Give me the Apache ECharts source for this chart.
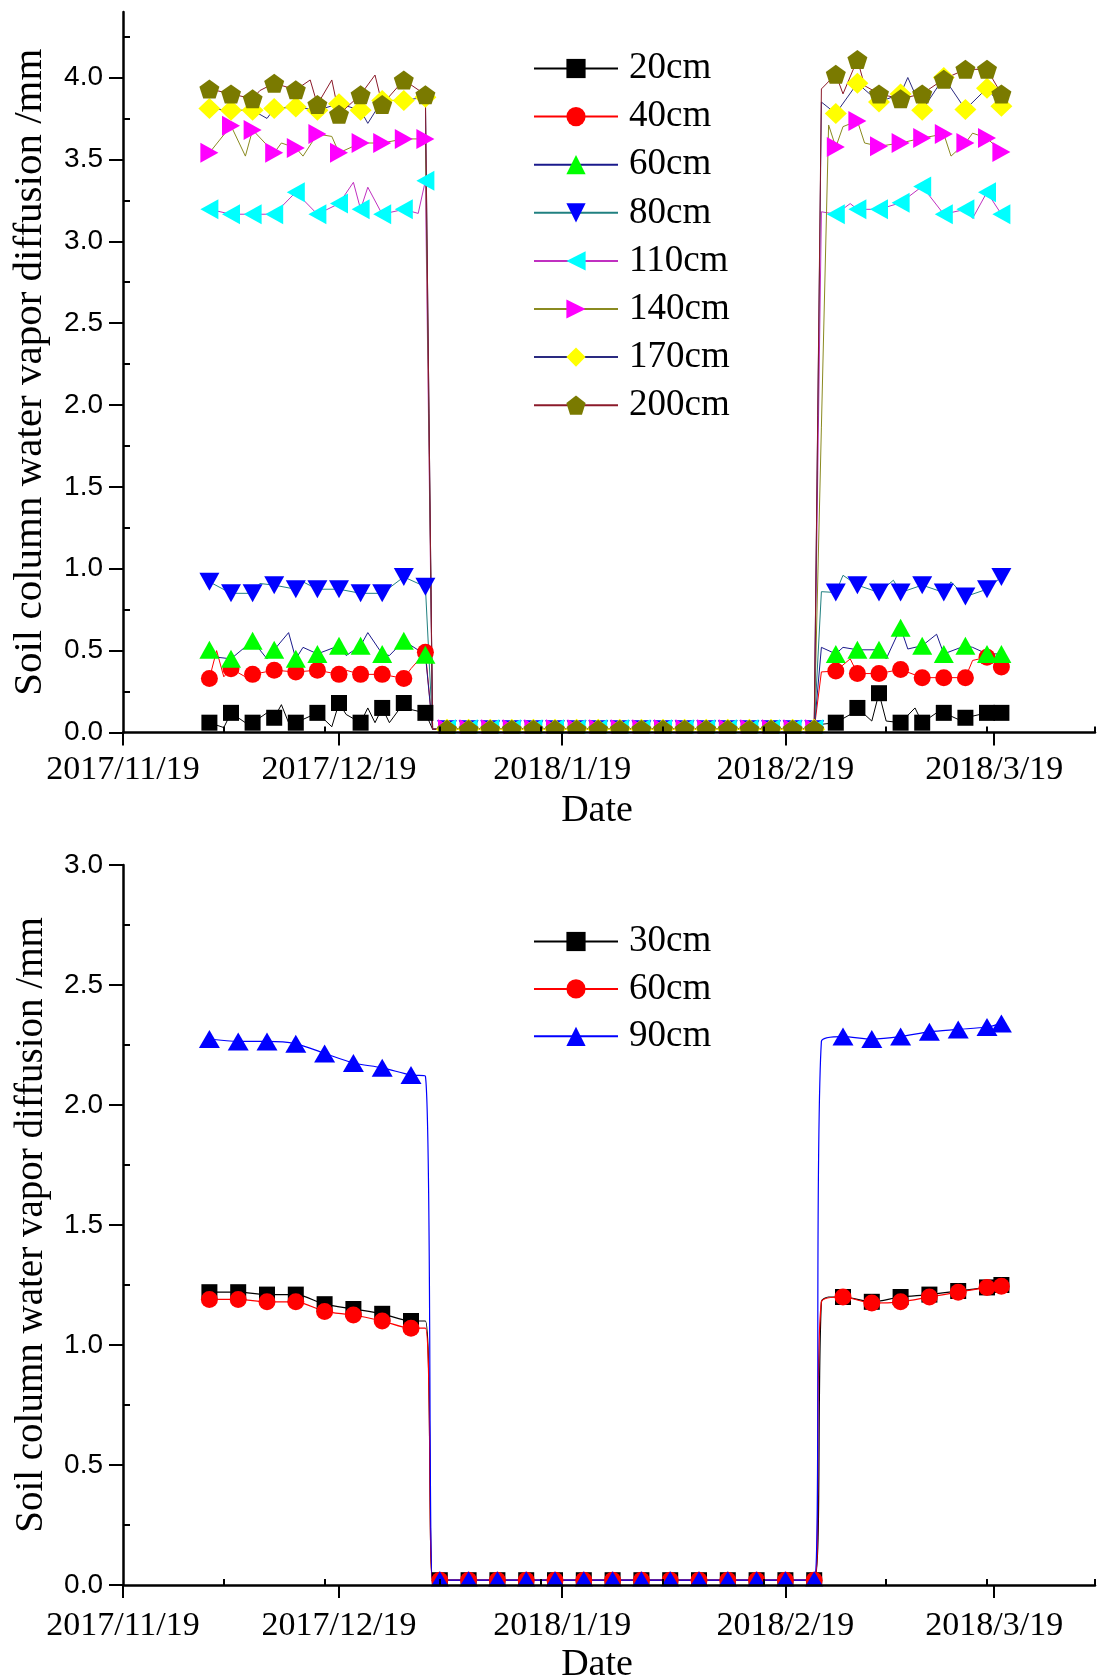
<!DOCTYPE html>
<html><head><meta charset="utf-8">
<script src="https://cdn.jsdelivr.net/npm/echarts@6/dist/echarts.min.js"></script>
<style>html,body{margin:0;padding:0;background:#fff}#c{width:1107px;height:1678px}</style>
</head><body><div id="c"></div>
<script>
// ===== axis ticks (x in days since 2017/11/19) =====
const tickDays = [0, 30, 61, 92, 121];
const tickLabels = ['2017/11/19', '2017/12/19', '2018/1/19', '2018/2/19', '2018/3/19'];
const minorTickDays = [14, 28, 44, 58, 75, 89, 106, 120, 135];
const xMaxDay = 135;
const topYTicks = [0, 0.5, 1, 1.5, 2, 2.5, 3, 3.5, 4];
const topYMinor = [0.25, 0.75, 1.25, 1.75, 2.25, 2.75, 3.25, 3.75, 4.25];
const botYTicks = [0, 0.5, 1, 1.5, 2, 2.5, 3];
const botYMinor = [0.25, 0.75, 1.25, 1.75, 2.25, 2.75];

// ===== top chart =====
const topNames = ['20cm', '40cm', '60cm', '80cm', '110cm', '140cm', '170cm', '200cm'];
const topDays1 = [12, 15, 18, 21, 24, 27, 30, 33, 36, 39, 42];
const topZeroDays = [45, 48, 51, 54, 57, 60, 63, 66, 69, 72, 75, 78, 81, 84, 87, 90, 93, 96];
const topZeroValues = [0.02, 0.02, 0.02, 0.02, 0.02, 0.02, 0.02, 0.02, 0.02, 0.02, 0.02, 0.02, 0.02, 0.02, 0.02, 0.02, 0.02, 0.02];
const topDays2 = [99, 102, 105, 108, 111, 114, 117, 120, 122];

const s20a = [0.06, 0.12, 0.06, 0.09, 0.06, 0.12, 0.18, 0.06, 0.15, 0.18, 0.12];
const s20b = [0.06, 0.15, 0.24, 0.06, 0.06, 0.12, 0.09, 0.12, 0.12];
const s40a = [0.33, 0.39, 0.355, 0.38, 0.37, 0.38, 0.355, 0.355, 0.355, 0.33, 0.49];
const s40b = [0.375, 0.36, 0.36, 0.385, 0.335, 0.335, 0.335, 0.46, 0.40];
const s60a = [0.505, 0.45, 0.56, 0.505, 0.45, 0.48, 0.53, 0.53, 0.48, 0.56, 0.475];
const s60b = [0.48, 0.505, 0.505, 0.64, 0.53, 0.48, 0.53, 0.48, 0.48];
const s80a = [0.92, 0.85, 0.85, 0.90, 0.875, 0.875, 0.875, 0.85, 0.85, 0.95, 0.89];
const s80b = [0.855, 0.90, 0.855, 0.855, 0.90, 0.855, 0.83, 0.875, 0.95];
const s110a = [3.195, 3.165, 3.165, 3.165, 3.30, 3.165, 3.23, 3.195, 3.165, 3.195, 3.37];
const s110b = [3.165, 3.195, 3.195, 3.235, 3.335, 3.165, 3.195, 3.30, 3.165];
const s140a = [3.54, 3.705, 3.68, 3.54, 3.57, 3.655, 3.54, 3.60, 3.60, 3.625, 3.625];
const s140b = [3.575, 3.735, 3.58, 3.60, 3.63, 3.655, 3.60, 3.63, 3.545];
const s170a = [3.81, 3.80, 3.80, 3.81, 3.82, 3.80, 3.84, 3.80, 3.86, 3.86, 3.88];
const s170b = [3.78, 3.965, 3.85, 3.90, 3.80, 4.00, 3.805, 3.935, 3.825];
const s200a = [3.93, 3.90, 3.87, 3.965, 3.925, 3.835, 3.775, 3.895, 3.835, 3.985, 3.895];
const s200b = [4.02, 4.11, 3.90, 3.87, 3.90, 3.99, 4.05, 4.05, 3.90];

// line-only vertices between markers [day, value]
const x20 = [[14, 0.03], [17, 0.06], [20, 0.12], [22, 0.17], [23, 0.06], [29, 0.035], [31, 0.11], [34, 0.15], [35, 0.06], [37, 0.06], [40, 0.14], [43, 0.02], [97, 0.05], [101, 0.11], [104, 0.07], [106, 0.07], [110, 0.15], [113, 0.12], [116, 0.08]];
const x40 = [[13, 0.50], [14, 0.34], [17, 0.34], [31, 0.38], [40, 0.39], [43, 0.02], [97, 0.37], [101, 0.45], [118, 0.44]];
const x60 = [[13, 0.46], [20, 0.45], [23, 0.61], [25, 0.52], [31, 0.47], [34, 0.61], [37, 0.47], [43, 0.02], [97, 0.52], [100, 0.52], [106, 0.45], [109, 0.51], [113, 0.60], [118, 0.52]];
const x80 = [[19, 0.91], [25, 0.92], [43, 0.02], [97, 0.86], [100, 0.96], [107, 0.93], [115, 0.92]];
const x110 = [[32, 3.36], [34, 3.33], [41, 3.17], [43, 0.02], [97, 3.18], [101, 3.23], [118, 3.14]];
const x140 = [[17, 3.52], [22, 3.60], [25, 3.52], [29, 3.64], [43, 0.02], [98, 3.71], [100, 3.70], [103, 3.60], [115, 3.52], [118, 3.66]];
const x170 = [[20, 3.75], [34, 3.72], [43, 0.02], [97, 3.85], [109, 4.00]];
const x200 = [[19, 3.92], [26, 3.985], [29, 3.985], [35, 4.015], [43, 0.02], [97, 3.93], [100, 3.90], [103, 3.95]];

// ===== bottom chart =====
const botNames = ['30cm', '60cm', '90cm'];
const botDays1 = [12, 16, 20, 24, 28, 32, 36, 40];
const botZeroDays = [44, 48, 52, 56, 60, 64, 68, 72, 76, 80, 84, 88, 92, 96];
const botZeroValues = [0.02, 0.02, 0.02, 0.02, 0.02, 0.02, 0.02, 0.02, 0.02, 0.02, 0.02, 0.02, 0.02, 0.02];
const botDays2 = [100, 104, 108, 112, 116, 120, 122];
const b30a = [1.22, 1.22, 1.21, 1.21, 1.17, 1.15, 1.13, 1.10];
const b30b = [1.20, 1.18, 1.20, 1.21, 1.225, 1.24, 1.25];
const b60a = [1.19, 1.19, 1.18, 1.18, 1.14, 1.125, 1.10, 1.07];
const b60b = [1.20, 1.175, 1.18, 1.20, 1.22, 1.24, 1.245];
const b90a = [2.275, 2.265, 2.265, 2.255, 2.215, 2.175, 2.155, 2.125];
const b90b = [2.285, 2.275, 2.285, 2.305, 2.315, 2.325, 2.34];
const y30 = [[42, 1.10], [43, 0.02], [97, 1.18], [98, 1.20]];
const y60 = [[42, 1.07], [43, 0.02], [97, 1.18]];
const y90 = [[42, 2.12], [43, 0.02], [97, 2.265]];

// ===== build =====
const SERIF = '"Liberation Serif","Times New Roman",serif';
const SANS = '"Liberation Sans",Arial,sans-serif';
const PENTA = 'path://M50,0L97.6,34.5L79.4,90.5L20.6,90.5L2.4,34.5Z';

function pts(d1, v1, dz, vz, d2, v2, extra) {
  const out = [];
  d1.forEach((d, i) => out.push({ value: [d, v1[i]] }));
  dz.forEach((d, i) => out.push({ value: [d, vz[i]] }));
  d2.forEach((d, i) => out.push({ value: [d, v2[i]] }));
  extra.forEach(p => out.push({ value: [p[0], p[1]], symbol: 'none' }));
  out.sort((a, b) => a.value[0] - b.value[0]);
  return out;
}
function mkSeries(name, data, xi, yi, sym, size, rot, fill, line, lw, smooth) {
  return {
    type: 'line', name: name, xAxisIndex: xi, yAxisIndex: yi, data: data,
    symbol: sym, symbolSize: size, symbolRotate: rot, showSymbol: true,
    itemStyle: { color: fill, borderWidth: 0 },
    lineStyle: { color: line, width: lw },
    smooth: smooth || false, animation: false, clip: true
  };
}
const topStyle = [
  ['rect', 16, 0, '#000000', '#000000'],
  ['circle', 17, 0, '#ff0000', '#ff0000'],
  ['triangle', [20, 18], 0, '#00ff00', '#1a1a8c'],
  ['triangle', [20, 18], 180, '#0000ff', '#208080'],
  ['triangle', [20, 18], 90, '#00ffff', '#c030c0'],
  ['triangle', [20, 18], -90, '#ff00ff', '#8a8a20'],
  ['diamond', [22, 21], 0, '#ffff00', '#2a2a80'],
  [PENTA, [20, 19], 0, '#7a7a00', '#8b1a2a']
];
const topA = [s20a, s40a, s60a, s80a, s110a, s140a, s170a, s200a];
const topB = [s20b, s40b, s60b, s80b, s110b, s140b, s170b, s200b];
const topX = [x20, x40, x60, x80, x110, x140, x170, x200];
const series = [];
topNames.forEach((n, i) => {
  const st = topStyle[i];
  series.push(mkSeries(n, pts(topDays1, topA[i], topZeroDays, topZeroValues, topDays2, topB[i], topX[i]), 0, 0, st[0], st[1], st[2], st[3], st[4], 1));
});
const botStyle = [
  ['rect', 16, 0, '#000000', '#000000'],
  ['circle', 17, 0, '#ff0000', '#ff0000'],
  ['triangle', [21, 18], 0, '#0000ff', '#0000ff']
];
const botA = [b30a, b60a, b90a], botB = [b30b, b60b, b90b], botX = [y30, y60, y90];
botNames.forEach((n, i) => {
  const st = botStyle[i];
  series.push(mkSeries('b' + n, pts(botDays1, botA[i], botZeroDays, botZeroValues, botDays2, botB[i], botX[i]), 2, 2, st[0], st[1], st[2], st[3], st[4], 1.2, 0.3));
});

function xAxes(gi, labelMargin, nameGap) {
  return [{
    type: 'value', gridIndex: gi, min: 0, max: xMaxDay, z: 200,
    axisLine: { show: true, onZero: false, lineStyle: { color: '#000', width: 2.5 } },
    axisTick: { show: true, inside: false, length: 13, customValues: tickDays, lineStyle: { color: '#000', width: 2 } },
    axisLabel: { show: true, customValues: tickDays, margin: labelMargin, color: '#000', fontSize: 34, fontFamily: SERIF,
      formatter: v => tickLabels[tickDays.indexOf(v)] },
    splitLine: { show: false },
    name: 'Date', nameLocation: 'middle', nameGap: nameGap,
    nameTextStyle: { color: '#000', fontSize: 38, fontFamily: SERIF, padding: [0, 24, 0, 0] }
  }, {
    type: 'value', gridIndex: gi, min: 0, max: xMaxDay, z: 200,
    axisLine: { show: false },
    axisTick: { show: true, inside: false, length: 6, customValues: minorTickDays, lineStyle: { color: '#000', width: 2 } },
    axisLabel: { show: false }, splitLine: { show: false }
  }];
}
function yAxes(gi, max, ticks, minor, nameSize) {
  return [{
    type: 'value', gridIndex: gi, min: 0, max: max, z: 200,
    axisLine: { show: true, onZero: false, lineStyle: { color: '#000', width: 2.5 } },
    axisTick: { show: true, inside: false, length: 14, customValues: ticks, lineStyle: { color: '#000', width: 2 } },
    axisLabel: { show: true, customValues: ticks, margin: 20, color: '#000', fontSize: 28, fontFamily: SANS,
      formatter: v => v.toFixed(1) },
    splitLine: { show: false },
    name: 'Soil column water vapor diffusion /mm', nameLocation: 'middle', nameGap: 72,
    nameTextStyle: { color: '#000', fontSize: nameSize, fontFamily: SERIF }
  }, {
    type: 'value', gridIndex: gi, min: 0, max: max, z: 200,
    axisLine: { show: false },
    axisTick: { show: true, inside: false, length: 7, customValues: minor, lineStyle: { color: '#000', width: 2 } },
    axisLabel: { show: false }, splitLine: { show: false }
  }];
}

const legendBase = {
  orient: 'vertical', left: 528, itemWidth: 84, itemHeight: 24, selectedMode: false,
  textStyle: { color: '#000', fontSize: 37, fontFamily: SERIF, lineHeight: 36, padding: [0, 0, 0, 6] }
};

const option = {
  animation: false,
  backgroundColor: '#fff',
  grid: [
    { left: 123, top: 12, width: 972, height: 720.5, outerBoundsMode: 'none', containLabel: false },
    { left: 123, top: 865, width: 972, height: 720, outerBoundsMode: 'none', containLabel: false }
  ],
  xAxis: xAxes(0, 21, 60).concat(xAxes(1, 24, 61)),
  yAxis: yAxes(0, 4.4, topYTicks, topYMinor, 41).concat(yAxes(1, 3, botYTicks, botYMinor, 39)),
  legend: [
    Object.assign({}, legendBase, { top: 45, itemGap: 11.1, data: topNames }),
    Object.assign({}, legendBase, { top: 918, itemGap: 10.4, data: botNames.map(n => 'b' + n),
      formatter: n => n.slice(1) })
  ],
  series: series
};

const chart = echarts.init(document.getElementById('c'));
chart.setOption(option);

// white mask under the x axes so markers sitting on zero are cut at the frame, as in the original
function mask(seriesIndex) {
  const a = chart.convertToPixel({ seriesIndex: seriesIndex }, [0, 0]);
  const b = chart.convertToPixel({ seriesIndex: seriesIndex }, [xMaxDay, 0]);
  return { type: 'rect', z: 100, silent: true,
    shape: { x: a[0] + 2, y: a[1] + 1.5, width: b[0] - a[0] - 2, height: 9 },
    style: { fill: '#fff' } };
}
chart.setOption({ graphic: { elements: [mask(0), mask(topNames.length)] } });
</script>
</body></html>
